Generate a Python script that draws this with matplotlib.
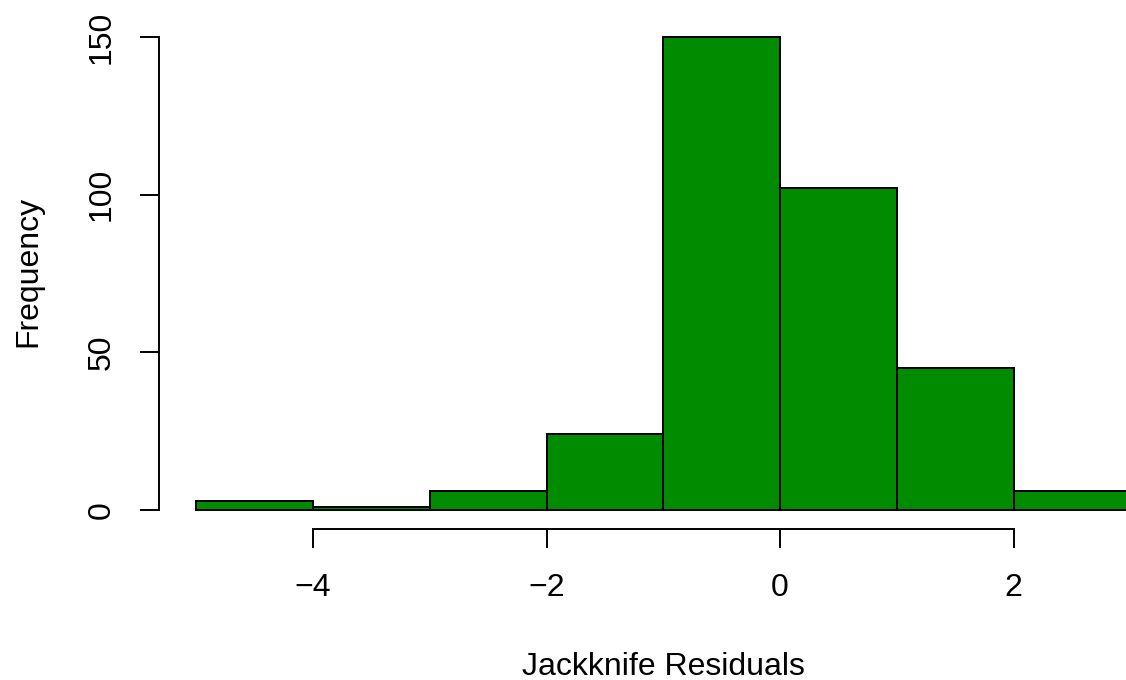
import matplotlib
matplotlib.use("Agg")
import matplotlib.pyplot as plt
import numpy as np

plt.rcParams['font.family'] = ['Liberation Sans', 'DejaVu Sans']

# Histogram of jackknife residuals: bin edges and counts
bin_edges = [-5, -4, -3, -2, -1, 0, 1, 2, 3]
counts = [3, 1, 6, 24, 150, 102, 45, 6]
x_ticks = [-4, -2, 0, 2]
y_ticks = [0, 50, 100, 150]

W, H = 1126, 680
fig = plt.figure(figsize=(W / 100, H / 100), dpi=100)

# plot region in pixels
left_px, right_px, bottom_px, top_px = 159, 1126, 529, 20
ax = fig.add_axes([left_px / W, 1 - bottom_px / H,
                   (right_px - left_px) / W, (bottom_px - top_px) / H])

# data-to-pixel scale
x0_px, xscale = 780.0, 116.75
y0_px, yscale = 510.0, (510.0 - 37.0) / 150.0
ax.set_xlim((left_px - x0_px) / xscale, (right_px - x0_px) / xscale)
ax.set_ylim((y0_px - bottom_px) / yscale, (y0_px - top_px) / yscale)

widths = np.diff(bin_edges)
ax.bar(bin_edges[:-1], counts, width=widths, align='edge',
       color='#008B00', edgecolor='black', linewidth=1.4)

for s in ['top', 'right']:
    ax.spines[s].set_visible(False)
ax.spines['left'].set_bounds(y_ticks[0], y_ticks[-1])
ax.spines['bottom'].set_bounds(x_ticks[0], x_ticks[-1])
for s in ['left', 'bottom']:
    ax.spines[s].set_linewidth(1.4)

fs = 23
ax.set_xticks(x_ticks)
ax.set_yticks(y_ticks)
ax.set_xticklabels([f"{v}".replace('-', '\u2212') for v in x_ticks])
ax.set_yticklabels([str(v) for v in y_ticks], rotation=90, va='center')
ax.tick_params(axis='both', length=13.5, width=1.4, labelsize=fs)
ax.tick_params(axis='x', pad=18)
ax.tick_params(axis='y', pad=17)

# axis titles
fig.text(663 / W, 1 - 675 / H, 'Jackknife Residuals', fontsize=fs,
         ha='center', va='baseline')
fig.text(36 / W, 1 - 271 / H, 'Frequency', fontsize=fs, rotation=90,
         rotation_mode='anchor', ha='center', va='baseline')

fig.savefig('out.png', dpi=100)
